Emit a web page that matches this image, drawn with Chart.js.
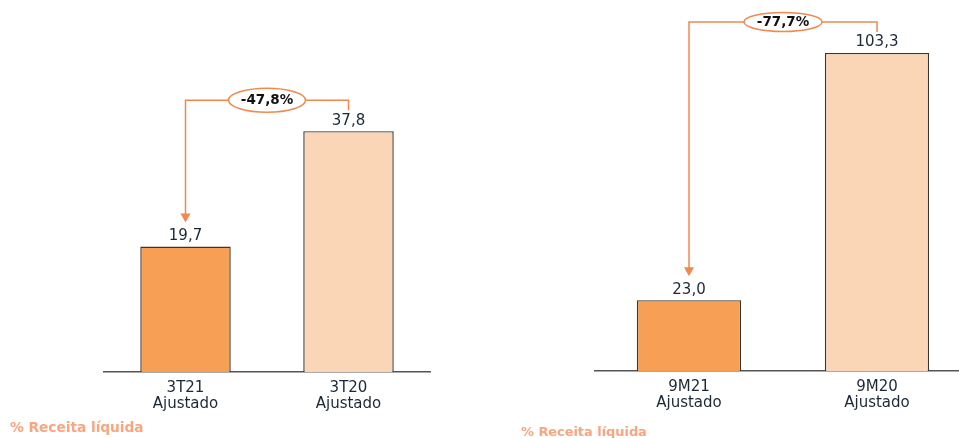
<!DOCTYPE html>
<html>
<head>
    <title>Receita ajustada</title>
    <script src="https://cdn.jsdelivr.net/npm/chart.js"></script>
    <style>
        html, body { margin: 0; padding: 0; width: 959px; height: 438px; overflow: hidden; background: #fff; }
        .box { position: absolute; top: 0; height: 438px; }
        .note { position: absolute; font-family: "DejaVu Sans", sans-serif; font-weight: bold; color: #F9A57E; white-space: nowrap; }
    </style>
</head>
<body>
    <div class="box" style="left:0; width:450px;"><canvas id="left"></canvas></div>
    <div class="box" style="left:500px; width:480px;"><canvas id="right"></canvas></div>
    <div class="note" style="left:10px; top:419px; font-size:13.7px;">% Receita líquida</div>
    <div class="note" style="left:521px; top:424px; font-size:12.9px;">% Receita líquida</div>

    <script>
// chart data
const leftLabels = [['3T21', 'Ajustado'], ['3T20', 'Ajustado']];
const leftValues = [19.7, 37.8];
const leftChange = '-47,8%';

const rightLabels = [['9M21', 'Ajustado'], ['9M20', 'Ajustado']];
const rightValues = [23.0, 103.3];
const rightChange = '-77,7%';

const barColors = ['#F79F55', '#FBD6B6'];
const lineColor = '#F0894E';
const font = '"DejaVu Sans", sans-serif';

// value labels + bracket with the percent change
const bracketPlugin = {
    id: 'bracket',
    afterDatasetsDraw(chart, args, opts) {
        const ctx = chart.ctx;
        const bars = chart.getDatasetMeta(0).data;
        const values = chart.data.datasets[0].data;

        ctx.save();
        ctx.fillStyle = '#1c2837';
        ctx.font = '15px ' + font;
        ctx.textAlign = 'center';
        ctx.textBaseline = 'middle';
        bars.forEach((bar, i) => {
            ctx.fillText(values[i].toFixed(1).replace('.', ','), bar.x, bar.y - 10.5);
        });

        const a = bars[0], b = bars[1];
        const lineY = b.y - opts.above;
        const midX = (a.x + b.x) / 2;
        const tipY = a.y - 24;

        ctx.strokeStyle = lineColor;
        ctx.fillStyle = lineColor;
        ctx.lineWidth = 1.5;
        ctx.beginPath();
        ctx.moveTo(a.x, tipY - 7);
        ctx.lineTo(a.x, lineY);
        ctx.lineTo(b.x, lineY);
        ctx.lineTo(b.x, b.y - 21);
        ctx.stroke();

        // arrow head
        ctx.beginPath();
        ctx.moveTo(a.x - 5, tipY - 9);
        ctx.lineTo(a.x + 5, tipY - 9);
        ctx.lineTo(a.x, tipY);
        ctx.closePath();
        ctx.fill();

        // ellipse with label
        ctx.beginPath();
        ctx.ellipse(midX, lineY, opts.rx, opts.ry, 0, 0, Math.PI * 2);
        ctx.fillStyle = '#fff';
        ctx.fill();
        ctx.stroke();

        ctx.fillStyle = '#111';
        ctx.font = 'bold 13.5px ' + font;
        ctx.fillText(opts.text, midX, lineY + 0.5);
        ctx.restore();
    }
};

function makeChart(id, labels, values, change, yMax, pad, axisHeight, rx, ry) {
    return new Chart(document.getElementById(id), {
        type: 'bar',
        data: {
            labels: labels,
            datasets: [{
                data: values,
                backgroundColor: barColors,
                borderColor: '#363636',
                borderWidth: 1.4,
                categoryPercentage: 1,
                barPercentage: 0.555
            }]
        },
        options: {
            responsive: true,
            maintainAspectRatio: false,
            animation: false,
            layout: { padding: pad },
            plugins: {
                legend: { display: false },
                tooltip: { enabled: false },
                bracket: { text: change, above: 31, rx: rx, ry: ry }
            },
            scales: {
                x: {
                    grid: { display: false },
                    border: { display: true, color: '#555', width: 1.5 },
                    ticks: {
                        color: '#1c2837',
                        padding: 0,
                        font: { family: font, size: 15, lineHeight: 1.07 }
                    },
                    afterFit(scale) { scale.height = axisHeight; }
                },
                y: { display: false, min: 0, max: yMax }
            }
        },
        plugins: [bracketPlugin]
    });
}

makeChart('left', leftLabels, leftValues, leftChange, 58.4,
    { left: 104, right: 20, top: 0, bottom: 0 }, 66, 38.5, 12);
makeChart('right', rightLabels, rightValues, rightChange, 120.5,
    { left: 95, right: 9, top: 0, bottom: 0 }, 67, 39, 9.5);
    </script>
</body>
</html>
